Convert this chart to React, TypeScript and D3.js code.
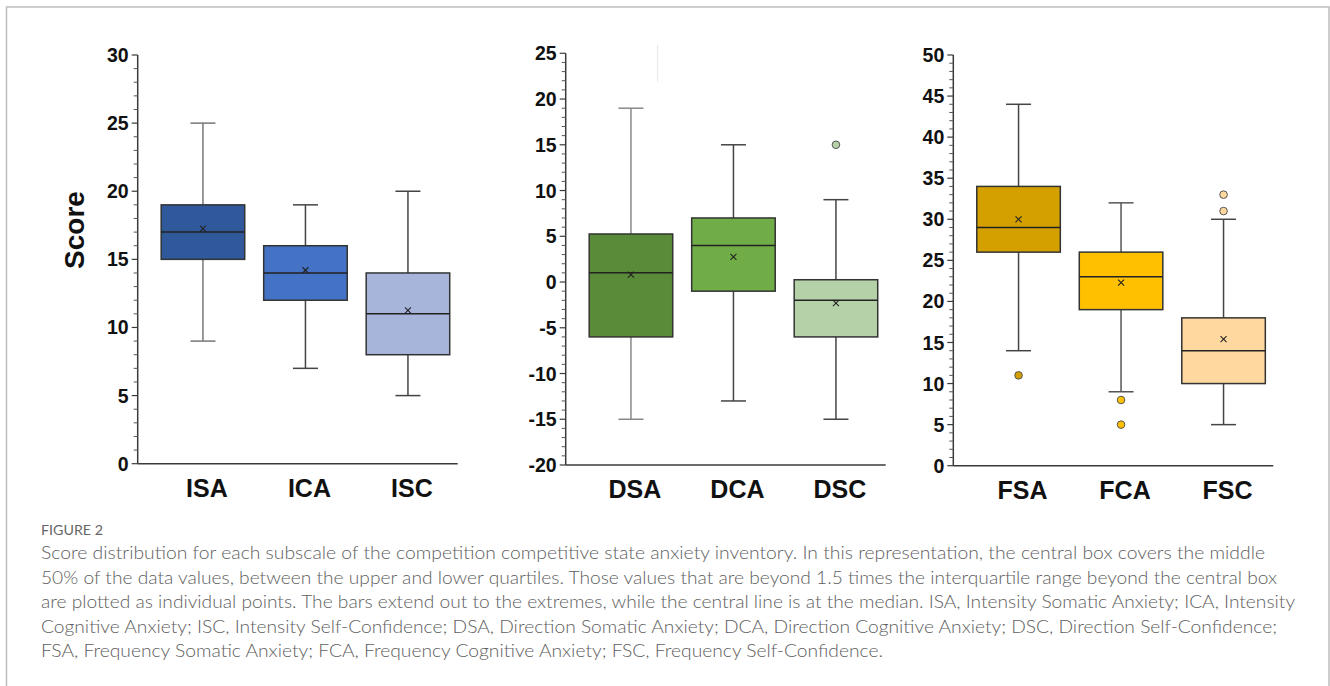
import React from "react";
import * as d3 from "d3";

// ---------- data ----------
const intensityCats = ["ISA", "ICA", "ISC"];
const intensityMin = [9, 7, 5];
const intensityQ1 = [15, 12, 8];
const intensityMedian = [17, 14, 11];
const intensityQ3 = [19, 16, 14];
const intensityMax = [25, 19, 20];
const intensityMean = [17.25, 14.2, 11.25];
const intensityOutliers: number[][] = [[], [], []];
const intensityColors = ["#30599C", "#4472C4", "#A7B5DA"];
const intensityTicks = [0, 5, 10, 15, 20, 25, 30];

const directionCats = ["DSA", "DCA", "DSC"];
const directionMin = [-15, -13, -15];
const directionQ1 = [-6, -1, -6];
const directionMedian = [1, 4, -2];
const directionQ3 = [5.25, 7, 0.25];
const directionMax = [19, 15, 9];
const directionMean = [0.8, 2.75, -2.3];
const directionOutliers: number[][] = [[], [], [15]];
const directionColors = ["#5A8B38", "#70AD47", "#B5D1A8"];
const directionTicks = [-20, -15, -10, -5, 0, 5, 10, 15, 20, 25];

const frequencyCats = ["FSA", "FCA", "FSC"];
const frequencyMin = [14, 9, 5];
const frequencyQ1 = [26, 19, 10];
const frequencyMedian = [29, 23, 14];
const frequencyQ3 = [34, 26, 18];
const frequencyMax = [44, 32, 30];
const frequencyMean = [30, 22.3, 15.4];
const frequencyOutliers: number[][] = [[11], [8, 5], [31, 33]];
const frequencyColors = ["#D3A000", "#FFC000", "#FFD8A0"];
const frequencyTicks = [0, 5, 10, 15, 20, 25, 30, 35, 40, 45, 50];

const captionTitle = "FIGURE 2";
const captionLines = [
  "Score distribution for each subscale of the competition competitive state anxiety inventory. In this representation, the central box covers the middle",
  "50% of the data values, between the upper and lower quartiles. Those values that are beyond 1.5 times the interquartile range beyond the central box",
  "are plotted as individual points. The bars extend out to the extremes, while the central line is at the median. ISA, Intensity Somatic Anxiety; ICA, Intensity",
  "Cognitive Anxiety; ISC, Intensity Self-Confidence; DSA, Direction Somatic Anxiety; DCA, Direction Cognitive Anxiety; DSC, Direction Self-Confidence;",
  "FSA, Frequency Somatic Anxiety; FCA, Frequency Cognitive Anxiety; FSC, Frequency Self-Confidence.",
];
const captionLineEnds = [1265, 1277, 1295, 1277, 883];

// ---------- layout ----------
type PanelProps = {
  axisX: number;
  yTop: number;
  yBottom: number;
  domain: [number, number];
  ticks: number[];
  cats: string[];
  mins: number[];
  q1: number[];
  med: number[];
  q3: number[];
  maxs: number[];
  means: number[];
  outliers: number[][];
  colors: string[];
  whiskerColors: string[];
};

const FONT = "'Liberation Sans', Arial, Helvetica, sans-serif";

function Panel(p: PanelProps) {
  const y = d3.scaleLinear().domain(p.domain).range([p.yBottom, p.yTop]);
  const x = d3
    .scaleBand<string>()
    .domain(p.cats)
    .range([p.axisX + 14, p.axisX + 321.5])
    .padding(0);
  const boxW = x.bandwidth() * 0.815;
  const capW = 25;
  const minor = d3.range(p.domain[0], p.domain[1] + 1, 1).filter((v) => !p.ticks.includes(v));
  const axisColor = "#3a3a3a";
  return (
    <g>
      <line x1={p.axisX} x2={p.axisX} y1={y(p.domain[1])} y2={y(p.domain[0])} stroke={axisColor} strokeWidth={1.5} />
      {minor.map((v) => (
        <line key={"m" + v} x1={p.axisX - 4} x2={p.axisX} y1={y(v)} y2={y(v)} stroke="#555" strokeWidth={1} />
      ))}
      {p.ticks.map((v) => (
        <g key={"t" + v}>
          <line x1={p.axisX - 6} x2={p.axisX} y1={y(v)} y2={y(v)} stroke={axisColor} strokeWidth={1.2} />
          <text
            x={p.axisX - 9}
            y={y(v)}
            dy="0.36em"
            textAnchor="end"
            fontFamily={FONT}
            fontWeight="bold"
            fontSize={19.5}
            fill="#111"
          >
            {v}
          </text>
        </g>
      ))}
      <line x1={p.axisX} x2={p.axisX + 320} y1={y(p.domain[0])} y2={y(p.domain[0])} stroke={axisColor} strokeWidth={1.5} />
      {p.cats.map((c, i) => {
        const cx = (x(c) as number) + x.bandwidth() / 2;
        const my = y(p.means[i]);
        return (
          <g key={c}>
            <line x1={cx} x2={cx} y1={y(p.maxs[i])} y2={y(p.q3[i])} stroke={p.whiskerColors[i]} strokeWidth={1.5} />
            <line x1={cx} x2={cx} y1={y(p.q1[i])} y2={y(p.mins[i])} stroke={p.whiskerColors[i]} strokeWidth={1.5} />
            <line x1={cx - capW / 2} x2={cx + capW / 2} y1={y(p.maxs[i])} y2={y(p.maxs[i])} stroke={p.whiskerColors[i]} strokeWidth={1.5} />
            <line x1={cx - capW / 2} x2={cx + capW / 2} y1={y(p.mins[i])} y2={y(p.mins[i])} stroke={p.whiskerColors[i]} strokeWidth={1.5} />
            <rect
              x={cx - boxW / 2}
              y={y(p.q3[i])}
              width={boxW}
              height={y(p.q1[i]) - y(p.q3[i])}
              fill={p.colors[i]}
              stroke="#333"
              strokeWidth={1.5}
            />
            <line x1={cx - boxW / 2} x2={cx + boxW / 2} y1={y(p.med[i])} y2={y(p.med[i])} stroke="#222" strokeWidth={1.5} />
            <line x1={cx - 3} x2={cx + 3} y1={my - 3} y2={my + 3} stroke="#222" strokeWidth={1.1} />
            <line x1={cx - 3} x2={cx + 3} y1={my + 3} y2={my - 3} stroke="#222" strokeWidth={1.1} />
            {p.outliers[i].map((o, k) => (
              <circle key={k} cx={cx} cy={y(o)} r={3.8} fill={p.colors[i]} stroke="#555" strokeWidth={1} />
            ))}
            <text
              x={cx + 4}
              y={y(p.domain[0]) + 33}
              textAnchor="middle"
              fontFamily={FONT}
              fontWeight="bold"
              fontSize={25}
              fill="#111"
            >
              {c}
            </text>
          </g>
        );
      })}
    </g>
  );
}

export default function App() {
  return (
    <svg
      width={1330}
      height={686}
      style={{ position: "absolute", left: 0, top: 0, background: "#fff" }}
    >
      <rect x={0} y={0} width={1330} height={686} fill="#fff" />
      <path d="M6.5,700 L6.5,7 L1329,7 L1329,700" fill="none" stroke="#bdbdbd" strokeWidth={1.5} />

      <text
        transform="translate(84,230) rotate(-90)"
        textAnchor="middle"
        fontFamily={FONT}
        fontWeight="bold"
        fontSize={28}
        fill="#111"
      >
        Score
      </text>

      <Panel
        axisX={137.7}
        yTop={55}
        yBottom={463.7}
        domain={[0, 30]}
        ticks={intensityTicks}
        cats={intensityCats}
        mins={intensityMin}
        q1={intensityQ1}
        med={intensityMedian}
        q3={intensityQ3}
        maxs={intensityMax}
        means={intensityMean}
        outliers={intensityOutliers}
        colors={intensityColors}
        whiskerColors={["#777", "#444", "#444"]}
      />
      <Panel
        axisX={565.7}
        yTop={53.3}
        yBottom={465}
        domain={[-20, 25]}
        ticks={directionTicks}
        cats={directionCats}
        mins={directionMin}
        q1={directionQ1}
        med={directionMedian}
        q3={directionQ3}
        maxs={directionMax}
        means={directionMean}
        outliers={directionOutliers}
        colors={directionColors}
        whiskerColors={["#888", "#444", "#444"]}
      />
      <Panel
        axisX={953.3}
        yTop={55}
        yBottom={465.7}
        domain={[0, 50]}
        ticks={frequencyTicks}
        cats={frequencyCats}
        mins={frequencyMin}
        q1={frequencyQ1}
        med={frequencyMedian}
        q3={frequencyQ3}
        maxs={frequencyMax}
        means={frequencyMean}
        outliers={frequencyOutliers}
        colors={frequencyColors}
        whiskerColors={["#444", "#555", "#444"]}
      />
      <line x1={657.7} x2={657.7} y1={45} y2={82} stroke="#e6e6e6" strokeWidth={1} />

      <text x={41} y={535} fontFamily="Lato, 'Open Sans', sans-serif" fontSize={13.5} fill="#666" textLength={62} lengthAdjust="spacingAndGlyphs">
        {captionTitle}
      </text>
      {captionLines.map((l, i) => (
        <text
          key={i}
          x={41}
          y={559 + i * 24.5}
          fontFamily="Lato, 'Open Sans', sans-serif"
          fontWeight={300}
          fontSize={17.5}
          fill="#5e5e5e"
          textLength={captionLineEnds[i] - 41}
          lengthAdjust="spacingAndGlyphs"
        >
          {l}
        </text>
      ))}
    </svg>
  );
}
